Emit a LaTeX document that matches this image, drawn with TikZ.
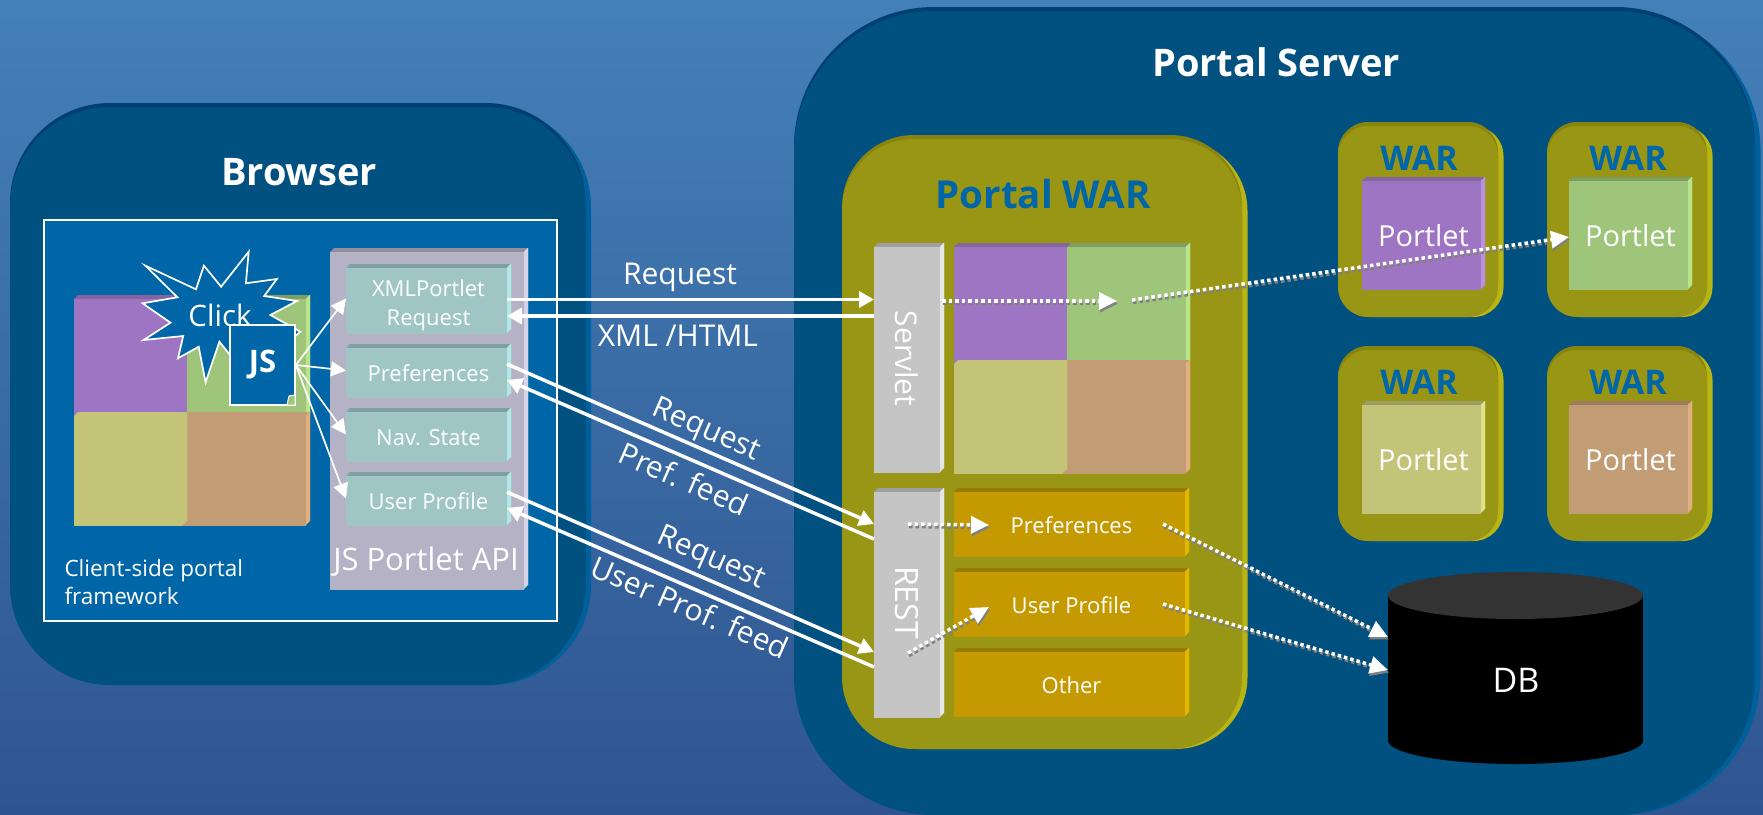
\documentclass[tikz,border=0pt]{standalone}
\usepackage{fontspec}
\setmainfont{Open Sans}
\usetikzlibrary{positioning,arrows.meta}
\definecolor{skytop}{HTML}{4480B8}
\definecolor{skybottom}{HTML}{2F5590}
\definecolor{serverblue}{HTML}{005080}
\definecolor{serveredge}{HTML}{00609C}
\definecolor{servertop}{HTML}{004070}
\definecolor{frameblue}{HTML}{0066A8}
\definecolor{warolive}{HTML}{9A9615}
\definecolor{warside}{HTML}{B8B412}
\definecolor{wartop}{HTML}{88840F}
\definecolor{quadpurple}{HTML}{9E75C2}
\definecolor{quadpurpletop}{HTML}{86649F}
\definecolor{quadpurpleside}{HTML}{BB90E0}
\definecolor{quadgreen}{HTML}{9FC57A}
\definecolor{quadgreentop}{HTML}{7F9E62}
\definecolor{quadgreenside}{HTML}{B9E58A}
\definecolor{quadyellow}{HTML}{C3C477}
\definecolor{quadyellowtop}{HTML}{9C9D5F}
\definecolor{quadyellowside}{HTML}{E0E28A}
\definecolor{quadbrown}{HTML}{C29C75}
\definecolor{quadbrowntop}{HTML}{9B7D5E}
\definecolor{quadbrownside}{HTML}{E0B080}
\definecolor{apigrey}{HTML}{B4B2C4}
\definecolor{apitop}{HTML}{8F8E9E}
\definecolor{apiside}{HTML}{D5D3E8}
\definecolor{callteal}{HTML}{9FC5C5}
\definecolor{calltop}{HTML}{7FA0A0}
\definecolor{callside}{HTML}{B0E8E8}
\definecolor{restgrey}{HTML}{C5C5C5}
\definecolor{resttop}{HTML}{9F9F9F}
\definecolor{restside}{HTML}{E6E6E6}
\definecolor{feedgold}{HTML}{C49A00}
\definecolor{feedtop}{HTML}{9A7A00}
\definecolor{feedside}{HTML}{E5B800}
\definecolor{dbcap}{HTML}{333333}
\def\bevelw{4.5pt}
\tikzset{
  bevelbox/.style n args={3}{
    rectangle, inner sep=0pt, outer sep=0pt, text=white, anchor=north west, align=center,
    path picture={
      \coordinate (nw) at (path picture bounding box.north west);
      \coordinate (ne) at (path picture bounding box.north east);
      \coordinate (se) at (path picture bounding box.south east);
      \coordinate (sw) at (path picture bounding box.south west);
      \filldraw[#2, line width=.5pt] ([yshift=-\bevelw]nw) -- ([xshift=\bevelw]nw) -- (ne) -- ([xshift=-\bevelw,yshift=-\bevelw]ne) -- cycle;
      \filldraw[#3, line width=.5pt] ([xshift=-\bevelw,yshift=-\bevelw]ne) -- (ne) -- ([yshift=\bevelw]se) -- ([xshift=-\bevelw]se) -- cycle;
      \filldraw[#1, line width=.5pt] ([yshift=-\bevelw]nw) -- ([xshift=-\bevelw,yshift=-\bevelw]ne) -- ([xshift=-\bevelw]se) -- (sw) -- cycle;
    }},
  purplebox/.style={bevelbox={quadpurple}{quadpurpletop}{quadpurpleside}},
  greenbox/.style={bevelbox={quadgreen}{quadgreentop}{quadgreenside}},
  yellowbox/.style={bevelbox={quadyellow}{quadyellowtop}{quadyellowside}},
  brownbox/.style={bevelbox={quadbrown}{quadbrowntop}{quadbrownside}},
  apibox/.style={bevelbox={apigrey}{apitop}{apiside}},
  callbox/.style={bevelbox={callteal}{calltop}{callside}, minimum width=165pt, font=\fontsize{22}{29}\selectfont, text height=22pt, text depth=0pt},
  restbox/.style={bevelbox={restgrey}{resttop}{restside}, minimum width=70pt},
  feedbox/.style={bevelbox={feedgold}{feedtop}{feedside}, minimum width=235pt, minimum height=68pt, font=\fontsize{22}{29}\selectfont, text height=22pt, text depth=0pt},
  shell/.style n args={3}{
    rectangle, inner sep=0pt, outer sep=0pt, anchor=north west, fill=#1,
    preaction={fill=#2, transform canvas={xshift=5.5pt}},
    preaction={fill=#3, transform canvas={yshift=4pt}}},
  serverhead/.style={text=white, font=\fontsize{38}{42}\selectfont\bfseries},
  warhead/.style={text=frameblue, font=\fontsize{34}{38}\selectfont\bfseries},
  wirelabel/.style={text=white, font=\fontsize{30}{34}\selectfont},
  jsflow/.style={draw=white, line width=1.7pt, -{Triangle[length=15pt,width=15pt]}},
  flow/.style={draw=white, line width=3.5pt, -{Triangle[length=15pt,width=16pt]}},
  dotshadow/.style={draw=gray, line width=3.5pt, dash pattern=on 3.5pt off 3pt,
    -{Triangle[length=18pt,width=17pt]}, transform canvas={xshift=1pt,yshift=-2.5pt}},
  dotflow/.style={draw=white, line width=3.5pt, dash pattern=on 3.5pt off 3pt,
    -{Triangle[length=18pt,width=17pt]}},
  portletgrid/.pic={
    \node[purplebox, minimum width=118pt, minimum height=122pt] (-purple) at (0,0) {};
    \node[greenbox, minimum width=123pt, minimum height=122pt] (-green) at (113,0) {};
    \node[bevelbox={quadbrown}{quadbrown}{quadbrownside}, minimum width=128pt, minimum height=113pt] (-brown) at (108,117) {};
    \node[bevelbox={quadyellow}{quadyellow}{quadyellow}, minimum width=113pt, minimum height=113pt] (-yellow) at (0,117) {};
  },
}
\begin{document}
\begin{tikzpicture}[x=1pt,y=-1pt]
\useasboundingbox (0,0) rectangle (1763,814);
\shade[top color=skytop, bottom color=skybottom] (0,0) rectangle (1763,814);

\node[shell={serverblue}{serveredge}{servertop}, rounded corners=140pt, minimum width=961pt, minimum height=804pt] (server) at (794,11) {};
\node[serverhead] (serverlabel) at (1276,62) {Portal Server};
\node[shell={serverblue}{serveredge}{servertop}, rounded corners=100pt, minimum width=575.5pt, minimum height=578pt] (browser) at (10,107) {};
\node[serverhead] (browserlabel) at (299,172) {Browser};

\node[rectangle, draw=white, line width=2pt, fill=frameblue, anchor=north west, inner sep=0pt, minimum width=513pt, minimum height=401pt] (framework) at (43,219) {};
\node[text=white, anchor=west, align=left, font=\fontsize{22.5}{28}\selectfont] (frameworklabel) at (61,582) {Client-side portal\\framework};
\pic (webgrid) at (74,295) {portletgrid};

\draw[draw=white, line width=1.7pt, fill=frameblue, line join=miter] (145.4,265.7) -- (196,289.3) -- (203.9,265.7) -- (221.1,286.7) -- (248.7,251.7) -- (245.9,283.3) -- (276.9,279) -- (264.2,296) -- (296.9,301) -- (270.4,315) -- (300.3,331.7) -- (271,356.7) -- (231.4,356.7) -- (219.4,341.7) -- (205.6,382.3) -- (198.7,346.7) -- (178,358.3) -- (183.2,336) -- (143.6,340) -- (170.5,322.7) -- (142.6,303.3) -- (177.4,297.3) -- cycle;
\node[text=white, font=\fontsize{29.5}{32}\selectfont] (clicklabel) at (220,315) {Click};

\node[rectangle, draw=white, line width=1.7pt, fill=frameblue, text=white, inner sep=0pt, minimum width=65pt, minimum height=80pt, font=\fontsize{31}{34}\selectfont\bfseries] (jsfile) at (262.5,365) {JS};
\draw[draw=white, line width=1pt, fill=quadgreen] (295,395) -- (289,396) -- (287,405) -- (295,405) -- cycle;

\node[apibox, minimum width=198pt, minimum height=341pt] (api) at (330,248) {};
\node[callbox, minimum height=69pt, text height=53pt] (xmlcall) at (346,264) {XMLPortlet\\Request};
\node[callbox, minimum height=53pt, below=11pt of xmlcall.south west, anchor=north west] (prefcall) {Preferences};
\node[callbox, minimum height=53pt, below=11pt of prefcall.south west, anchor=north west] (navcall) {Nav. State};
\node[callbox, minimum height=53pt, below=11pt of navcall.south west, anchor=north west] (usercall) {User Profile};
\node[text=white, font=\fontsize{31}{34}\selectfont] (apilabel) at (426,562) {JS Portlet API};

\foreach \callname in {xmlcall,prefcall,navcall,usercall} {
  \draw[jsflow] (jsfile.east) -- (\callname.west);
}

\node[shell={warolive}{warside}{wartop}, rounded corners=72pt, minimum width=400pt, minimum height=610pt] (portalwar) at (842,139) {};
\node[text=frameblue, font=\fontsize{38.5}{42}\selectfont\bfseries] (portalwarlabel) at (1043,194) {Portal WAR};

\node[restbox, minimum height=229pt] (servlet) at (874,243) {};
\node[text=white, rotate=-90, font=\fontsize{30}{32}\selectfont] (servletlabel) at ([xshift=-2pt,yshift=-1pt]servlet) {Servlet};
\node[restbox, minimum height=229pt] (rest) at (874,488) {};
\node[text=white, rotate=-90, font=\fontsize{32}{36}\selectfont] (restlabel) at ([xshift=-2pt]rest) {REST};
\pic (wargrid) at (954,243) {portletgrid};

\node[feedbox] (preffeed) at (954,488) {Preferences};
\node[feedbox, below=12pt of preffeed.south west, anchor=north west] (userfeed) {User Profile};
\node[feedbox, below=12pt of userfeed.south west, anchor=north west] (otherfeed) {Other};

\foreach \warname/\warx/\wary/\portx/\warbox in {a/1338/126/1362/purplebox, b/1547/126/1569/greenbox, c/1338/350/1362/yellowbox, d/1547/350/1569/brownbox} {
  \node[shell={warolive}{warside}{wartop}, rounded corners=30pt, minimum width=160pt, minimum height=191pt] (war\warname) at (\warx,\wary) {};
  \node[warhead] (warlabel\warname) at (\warx+81,\wary+32) {WAR};
  \node[\warbox, minimum width=123pt, minimum height=112pt, font=\fontsize{29}{32}\selectfont, text height=27pt, text depth=0pt] (portlet\warname) at (\portx,\wary+51) {Portlet};
}

\fill[black] (1515.5,740.5) ellipse [x radius=127.5, y radius=23.5];
\node[rectangle, fill=black, inner sep=0pt, outer sep=0pt, minimum width=255pt, minimum height=145pt] (db) at (1515.5,668) {};
\fill[dbcap] (1515.5,595.5) ellipse [x radius=127.5, y radius=23.5];
\node[text=white, font=\fontsize{34}{38}\selectfont] (dblabel) at (1516,680) {DB};

\draw[flow] ([xshift=-4pt,yshift=-1pt]xmlcall.east) -- ([yshift=-1pt]xmlcall.east -| servlet.west);
\draw[flow] ([yshift=-17.5pt]xmlcall.east -| servlet.west) -- ([xshift=-4pt,yshift=-17.5pt]xmlcall.east);
\draw[flow] ([xshift=-4pt,yshift=6.5pt]prefcall.east) -- ([yshift=78.5pt]rest.west);
\draw[flow] ([yshift=63.5pt]rest.west) -- ([xshift=-4pt,yshift=-9.5pt]prefcall.east);
\draw[flow] ([xshift=-4pt,yshift=6.5pt]usercall.east) -- ([yshift=-49.5pt]rest.west);
\draw[flow] ([yshift=-64.5pt]rest.west) -- ([xshift=-4pt,yshift=-9.5pt]usercall.east);

\node[wirelabel] (requesttop) at (680,277) {Request};
\node[wirelabel] (xmlhtml) at (678,336) {XML /HTML};
\node[wirelabel, rotate=-23.5] (requestpref) at (706,431) {Request};
\node[wirelabel, rotate=-23.5] (preflabel) at (684,479) {Pref. feed};
\node[wirelabel, rotate=-23.5] (requestuser) at (711,559) {Request};
\node[wirelabel, rotate=-23.5] (userlabel) at (690,607) {User Prof. feed};

\coordinate (gridstart) at (942,301);
\coordinate (gridstop) at (1117,301);
\coordinate (gridhop) at (1132,300);
\coordinate (portletin) at ([yshift=-4pt]portletb.west);
\coordinate (prefstart) at (908,524);
\coordinate (prefstop) at (989,525);
\coordinate (userstart) at (908,653);
\coordinate (userstop) at (989,607);
\coordinate (prefout) at (1163,524);
\coordinate (prefin) at ([yshift=31pt]db.west);
\coordinate (userout) at (1163,604);
\coordinate (userin) at ([yshift=-2pt]db.west);
\foreach \dotfrom/\dotto in {gridstart/gridstop, gridhop/portletin, prefstart/prefstop, userstart/userstop, prefout/prefin, userout/userin} {
  \draw[dotshadow] (\dotfrom) -- (\dotto);
  \draw[dotflow] (\dotfrom) -- (\dotto);
}
\end{tikzpicture}
\end{document}
